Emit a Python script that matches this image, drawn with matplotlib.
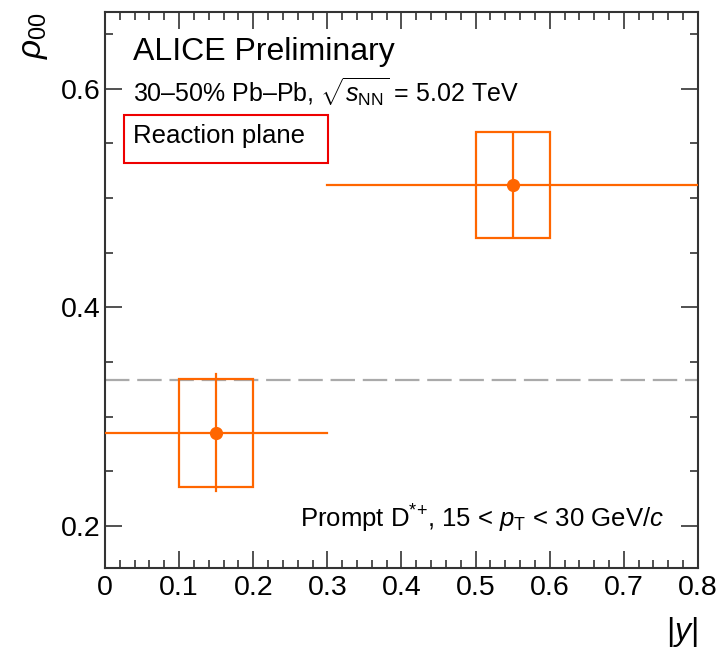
import numpy as np
import matplotlib
matplotlib.use("Agg")
from matplotlib import pyplot as plt
from matplotlib.patches import Rectangle
from matplotlib.ticker import MultipleLocator

plt.rcParams['font.family'] = ['Liberation Sans', 'DejaVu Sans']
plt.rcParams['mathtext.fontset'] = 'custom'
plt.rcParams['mathtext.rm'] = 'Liberation Sans'
plt.rcParams['mathtext.it'] = 'Liberation Sans:italic'
plt.rcParams['mathtext.bf'] = 'Liberation Sans:bold'

# rho00 vs |y|, prompt D*+ 15<pT<30, 30-50% Pb-Pb
y_lo = [0.0, 0.3]
y_hi = [0.3, 0.8]
y_center = [0.15, 0.55]
rho00 = [0.285, 0.512]
stat_err = [0.0535, 0.0465]
syst_err = [0.049, 0.0485]
box_half = [0.05, 0.05]

xticks = [0, 0.1, 0.2, 0.3, 0.4, 0.5, 0.6, 0.7, 0.8]
xticklabels = ["0", "0.1", "0.2", "0.3", "0.4", "0.5", "0.6", "0.7", "0.8"]
yticks = [0.2, 0.4, 0.6]
yticklabels = ["0.2", "0.4", "0.6"]

orange = '#ff6600'

fig = plt.figure(figsize=(7.21, 6.52), dpi=100)
ax = fig.add_axes([0.1456, 0.1288, 0.8224, 0.8528])

# unpolarised reference
ax.axhline(1.0/3.0, color='#aaaaaa', lw=1.6, dashes=(11, 3.5), zorder=1)

for i in range(len(rho00)):
    xc = y_center[i]
    ax.add_patch(Rectangle((xc - box_half[i], rho00[i] - syst_err[i]),
                           2*box_half[i], 2*syst_err[i],
                           fill=False, ec=orange, lw=1.6, zorder=2))
    ax.plot([y_lo[i], y_hi[i]], [rho00[i], rho00[i]], color=orange, lw=1.6, zorder=3)
    ax.plot([xc, xc], [rho00[i]-stat_err[i], rho00[i]+stat_err[i]], color=orange, lw=1.6, zorder=3)
    ax.plot([xc], [rho00[i]], 'o', color=orange, ms=8.5, zorder=4)

ax.set_xlim(0, 0.8)
ax.set_ylim(0.1615, 0.67)
ax.set_xticks(xticks)
ax.set_xticklabels(xticklabels)
ax.set_yticks(yticks)
ax.set_yticklabels(yticklabels)
ax.xaxis.set_minor_locator(MultipleLocator(0.02))
ax.yaxis.set_minor_locator(MultipleLocator(0.05))
ax.tick_params(which='both', direction='in', top=True, right=True,
               width=1.1, labelsize=20.5, color='#222222')
ax.tick_params(which='major', length=12.5)
ax.tick_params(which='minor', length=6)
ax.tick_params(axis='x', pad=5)
ax.tick_params(axis='y', pad=3)
for s in ax.spines.values():
    s.set_linewidth(1.5)
    s.set_color('#333333')

ax.set_xlabel(r'$|y|$', fontsize=23, loc='right', labelpad=10)
ax.set_ylabel(r'$\rho_{\rm 00}$', fontsize=24, loc='top', labelpad=8)

ax.text(0.047, 0.914, 'ALICE Preliminary', transform=ax.transAxes,
        fontsize=23, va='baseline', ha='left')
ax.text(0.047, 0.838, r'30–50% Pb–Pb, $\sqrt{s_{\rm NN}}$ = 5.02 TeV',
        transform=ax.transAxes, fontsize=18, va='baseline', ha='left')
ax.text(0.047, 0.764, 'Reaction plane', transform=ax.transAxes,
        fontsize=18.5, va='baseline', ha='left')
ax.add_patch(Rectangle((0.032, 0.728), 0.344, 0.087, transform=ax.transAxes,
                       fill=False, ec='#ee0000', lw=1.5))
ax.text(0.942, 0.072, r'Prompt D$^{*{+}}$, 15 < $p_{\rm T}$ < 30 GeV/$c$',
        transform=ax.transAxes, fontsize=18.5, va='baseline', ha='right')

fig.savefig('out.png', dpi=100)
